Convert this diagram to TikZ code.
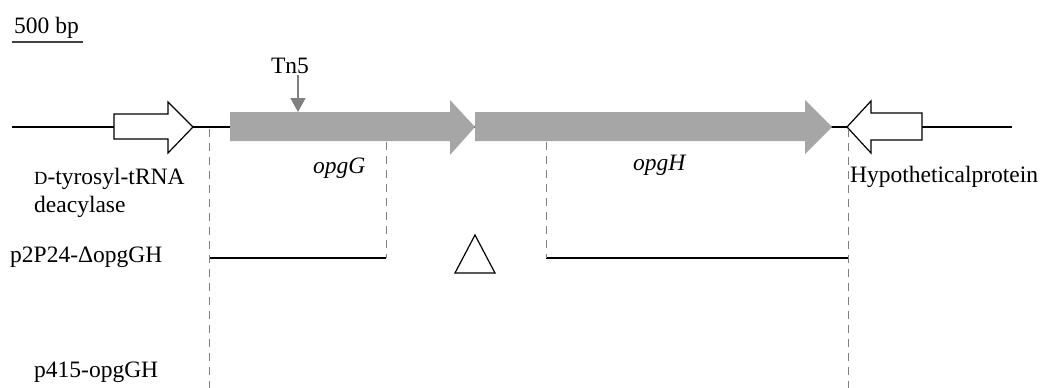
\documentclass[tikz,border=0pt]{standalone}
\usepackage{fontspec}
\setmainfont{Liberation Serif}
\usetikzlibrary{arrows.meta}
\colorlet{genegray}{black!35}
\colorlet{guidegray}{black!50}
\tikzset{
  gene/.style = {fill=genegray},
  flank/.style = {draw=black, fill=white, line width=1.2pt},
  guide/.style = {draw=guidegray, dash pattern=on 8pt off 6pt, line width=1pt},
  gtext/.style = {inner sep=0pt, anchor=base west, font=\fontsize{23.5}{28}\selectfont}
}
\tikzset{>={Triangle[width=15pt,length=14pt]}}

\begin{document}
\begin{tikzpicture}[x=1pt,y=-1pt]
  \useasboundingbox (0,0) rectangle (1045,388);
  % scale bar
  \node[gtext] (bar) at (14,33) {500 bp};
  \draw[line width=1.3pt,black!75] (12,42) -- (83,42);
  % backbone and genes
  \coordinate (L) at (12,127);
  \coordinate (R) at (1012,127);
  \draw[line width=1.2pt] (L) -- (R);
  \draw[flank] (114,114) -- (168,114) -- (168,102) -- (193,127) -- (168,153) -- (168,139) -- (114,139) -- cycle;
  \draw[flank] (922,113) -- (871,113) -- (871,101) -- (847,127) -- (871,153) -- (871,140) -- (922,140) -- cycle;
  \fill[gene] (230,112) -- (450,112) -- (450,100) -- (475,127) -- (450,155) -- (450,141) -- (230,141) -- cycle;
  \fill[gene] (475,112) -- (805,112) -- (805,100) -- (832,127) -- (805,154) -- (805,141) -- (475,141) -- cycle;
  % insertion
  \node[gtext,anchor=base] (tn5) at (290,73) {Tn5};
  \coordinate (ins) at (298,112);
  \draw[->,guidegray,line width=1.5pt] ([yshift=-2pt]tn5.south -| ins) -- (ins);
  % labels
  \node[gtext] (opgG) at (313,173) {\itshape opgG};
  \node[gtext] (opgH) at (633,170) {\itshape opgH};
  \node[gtext] (dtyr) at (34,184) {{\fontsize{18.5}{20}\selectfont D}-tyrosyl-tRNA};
  \node[gtext] (deac) at (34,212) {deacylase};
  \node[gtext] (hyp) at (850,182) {Hypotheticalprotein};
  \node[gtext] (del) at (10,262) {p2P24-ΔopgGH};
  \node[gtext] (comp) at (34,377) {p415-opgGH};
  % constructs
  \coordinate (a1) at (209,258);
  \coordinate (a2) at (386,258);
  \coordinate (b1) at (546,258);
  \coordinate (b2) at (848,258);
  \draw[line width=1.3pt] (a1) -- (a2);
  \draw[line width=1.3pt] (b1) -- (b2);
  \foreach \X in {209,848} { \draw[guide] (\X,129) -- (\X,388); }
  \draw[guide] (386,142) -- (a2);
  \draw[guide] (546,142) -- (b1);
  \draw[line width=1.2pt] (475,235) -- (495,273) -- (455,273) -- cycle;
\end{tikzpicture}
\end{document}
